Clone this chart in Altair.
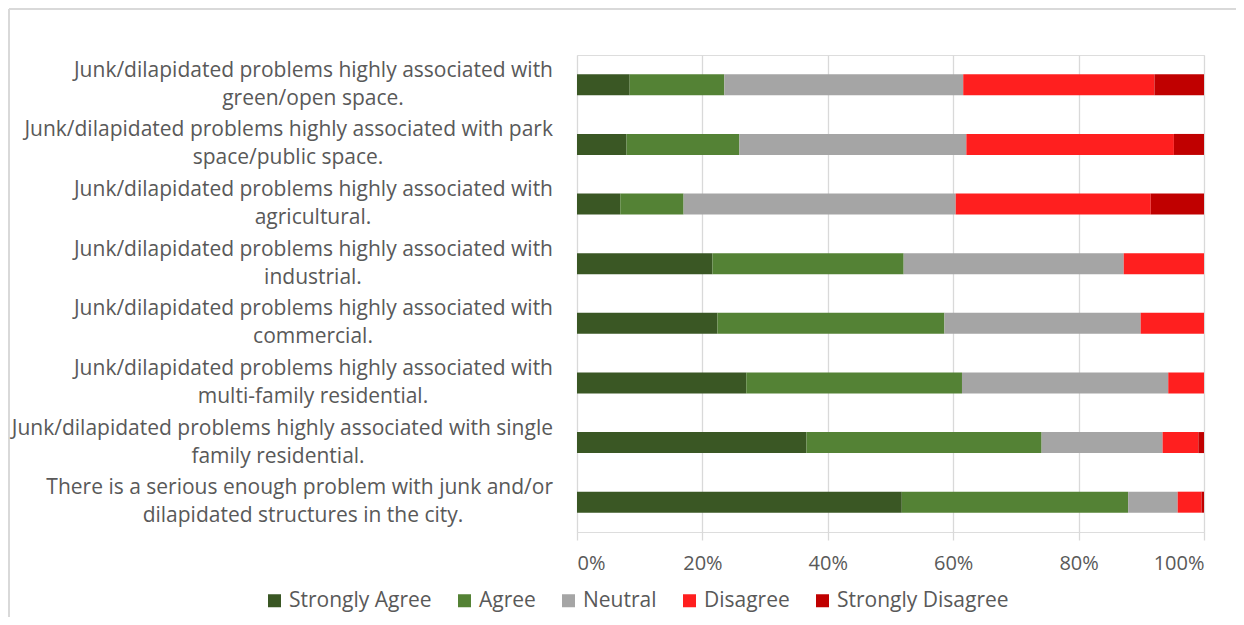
import altair as alt
import pandas as pd

# ---- data ----
line1 = [
    "Junk/dilapidated problems highly associated with",
    "Junk/dilapidated problems highly associated with park",
    "Junk/dilapidated problems highly associated with",
    "Junk/dilapidated problems highly associated with",
    "Junk/dilapidated problems highly associated with",
    "Junk/dilapidated problems highly associated with",
    "Junk/dilapidated problems highly associated with single",
    "There is a serious enough problem with junk and/or",
]
line2 = [
    "green/open space.",
    "space/public space.",
    "agricultural.",
    "industrial.",
    "commercial.",
    "multi-family residential.",
    "family residential.",
    "dilapidated structures in the city.",
]
series = ["Strongly Agree", "Agree", "Neutral", "Disagree", "Strongly Disagree"]
strongly_agree = [8.4, 7.9, 6.9, 21.6, 22.4, 27.0, 36.6, 51.8]
agree = [15.1, 18.0, 10.1, 30.5, 36.2, 34.4, 37.5, 36.1]
neutral = [38.1, 36.2, 43.4, 35.1, 31.3, 32.9, 19.3, 7.9]
disagree = [30.5, 33.1, 31.1, 12.8, 10.1, 5.7, 5.7, 3.8]
strongly_disagree = [7.9, 4.8, 8.5, 0.0, 0.0, 0.0, 0.9, 0.4]
tick_values = [0, 0.2, 0.4, 0.6, 0.8, 1.0]

colors = ["#3a5724", "#548235", "#a5a5a5", "#ff1f1f", "#c00000"]

categories = [a + " " + b for a, b in zip(line1, line2)]
values = [strongly_agree, agree, neutral, disagree, strongly_disagree]

rows = []
for si, (s, vals) in enumerate(zip(series, values)):
    for c, v in zip(categories, vals):
        rows.append({"category": c, "series": s, "value": v, "order": si})
df = pd.DataFrame(rows)

lab = pd.DataFrame({"category": categories, "line1": line1, "line2": line2})

FONT = "Open Sans"
TXT = "#595959"
GRID = "#d9d9d9"
FS = 21

yenc = alt.Y("category:N", sort=categories, axis=None,
             scale=alt.Scale(paddingInner=0.0, paddingOuter=0.0))

bars = alt.Chart(df).mark_bar(size=21).encode(
    x=alt.X("value:Q", stack="normalize",
            scale=alt.Scale(domain=[0, 1], nice=False),
            axis=alt.Axis(values=tick_values, format=".0%", title=None,
                          grid=True, gridColor=GRID, gridWidth=1.3,
                          domain=False, ticks=True, tickSize=8,
                          tickColor=GRID, tickWidth=1.3,
                          labelFont=FONT, labelFontSize=20, labelColor=TXT,
                          labelPadding=13)),
    y=yenc,
    color=alt.Color("series:N", sort=series,
                    scale=alt.Scale(domain=series, range=colors),
                    legend=alt.Legend(title=None, orient="none",
                                      direction="horizontal",
                                      legendX=-313, legendY=535,
                                      symbolType="square", symbolSize=169,
                                      symbolStrokeWidth=0,
                                      labelFont=FONT, labelFontSize=FS,
                                      labelColor=TXT, labelOffset=4,
                                      columnPadding=22, padding=0,
                                      labelLimit=300)),
    order=alt.Order("order:Q", sort="ascending"),
)

K = 10.0
t1 = alt.Chart(lab).mark_text(align="right", baseline="middle", dy=-14,
                              font=FONT, fontSize=FS, color=TXT).encode(
    x=alt.value(-24), y=yenc, text="line1:N")
t2 = alt.Chart(lab).transform_calculate(
    cx=f"-24 - length(datum.line1) * {K} / 2"
).mark_text(align="center", baseline="middle", dy=14,
            font=FONT, fontSize=FS, color=TXT).encode(
    x=alt.X("cx:Q", scale=None), y=yenc, text="line2:N")

frame_df = pd.DataFrame({"k": [0]})
top_line = alt.Chart(frame_df).mark_rule(color=GRID, strokeWidth=2).encode(
    x=alt.value(-568), x2=alt.value(660), y=alt.value(-46))
left_line = alt.Chart(frame_df).mark_rule(color=GRID, strokeWidth=2).encode(
    x=alt.value(-568), y=alt.value(-46), y2=alt.value(565))

chart = alt.layer(top_line, left_line, bars, t1, t2).properties(
    width=627, height=477,
    padding={"left": 569, "top": 47, "right": 32, "bottom": 85},
    autosize=alt.AutoSizeParams(type="none"),
).configure_view(stroke=None).configure(background="white")

chart.save("out.html", embed_options={"renderer": "svg", "actions": False})
